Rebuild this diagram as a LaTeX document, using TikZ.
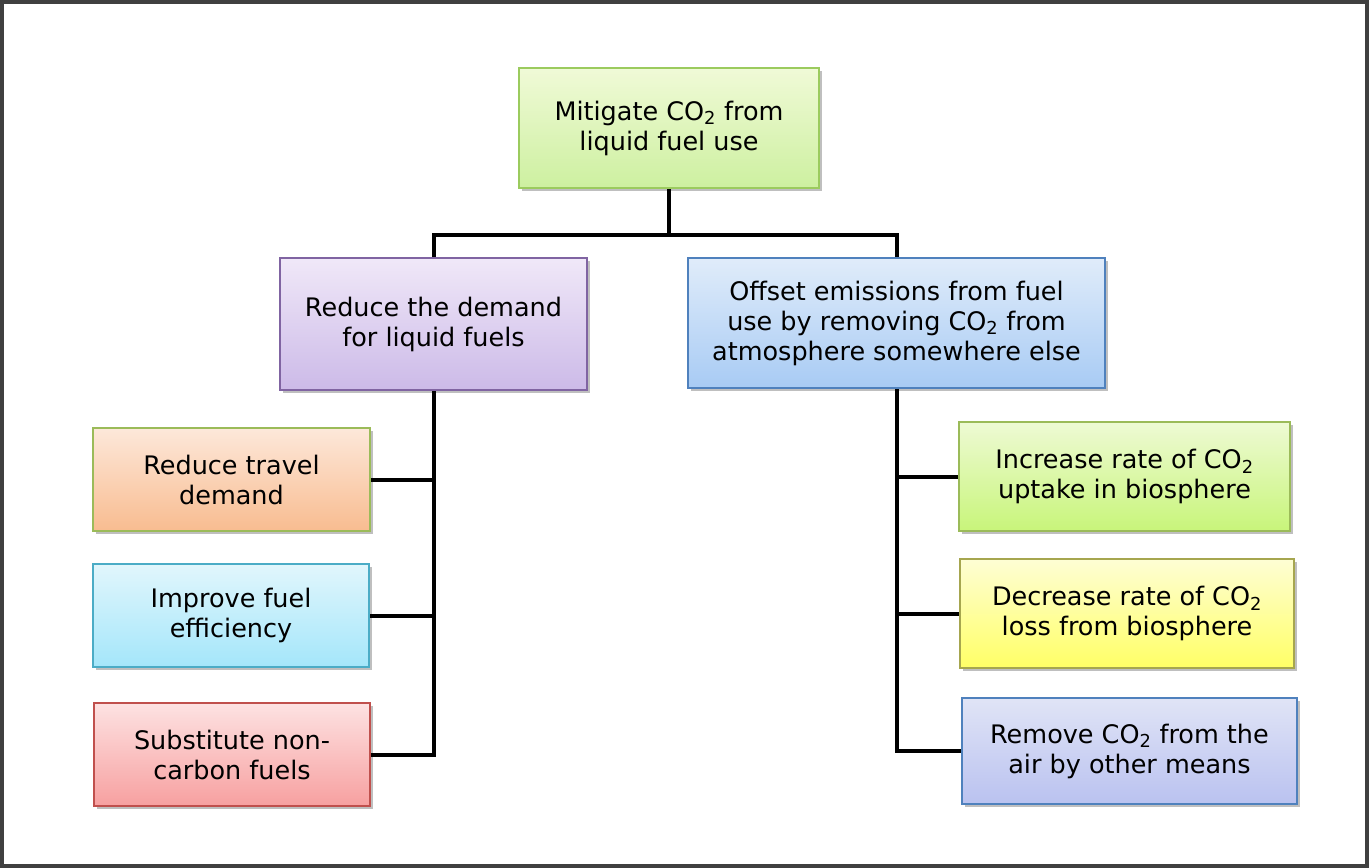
\documentclass[tikz,border=0pt]{standalone}
\usepackage{fontspec}
\setmainfont{DejaVu Sans}
\usetikzlibrary{shadows}
\begin{document}
\begin{tikzpicture}[x=1pt,y=-1pt,
  box/.style={draw, line width=2pt, align=center, inner sep=0pt,
    font=\fontsize{25.5}{30}\selectfont, text=black,
    drop shadow={shadow xshift=3pt, shadow yshift=-3pt, opacity=0.25, fill=black}},
  conn/.style={line width=4pt, black, line join=miter}]
\useasboundingbox (0,0) rectangle (1369,868);
\draw[line width=4pt, draw={rgb,255:red,64;green,64;blue,64}, fill=white] (2,2) rectangle (1367,866);
% nodes
\node[box, minimum width=300pt, minimum height=120pt,
  draw={rgb,255:red,155;green,203;blue,94},
  top color={rgb,255:red,240;green,250;blue,215}, bottom color={rgb,255:red,205;green,240;blue,160}]
  (top) at (669,128) {Mitigate CO\textsubscript{2} from\\liquid fuel use};
\node[box, minimum width=307pt, minimum height=132pt,
  draw={rgb,255:red,128;green,100;blue,162},
  top color={rgb,255:red,240;green,232;blue,248}, bottom color={rgb,255:red,204;green,186;blue,232}]
  (reduce) at (433.5,324) {Reduce the demand\\for liquid fuels};
\node[box, minimum width=417pt, minimum height=130pt,
  draw={rgb,255:red,79;green,129;blue,189},
  top color={rgb,255:red,224;green,236;blue,250}, bottom color={rgb,255:red,168;green,203;blue,244}]
  (offset) at (896.5,323) {Offset emissions from fuel\\use by removing CO\textsubscript{2} from\\atmosphere somewhere else};
\node[box, minimum width=277pt, minimum height=103pt,
  draw={rgb,255:red,155;green,187;blue,89},
  top color={rgb,255:red,253;green,232;blue,218}, bottom color={rgb,255:red,248;green,188;blue,144}]
  (travel) at (231.5,479.5) {Reduce travel\\demand};
\node[box, minimum width=276pt, minimum height=103pt,
  draw={rgb,255:red,75;green,172;blue,198},
  top color={rgb,255:red,225;green,246;blue,252}, bottom color={rgb,255:red,164;green,230;blue,250}]
  (improve) at (231,615.5) {Improve fuel\\efficiency};
\node[box, minimum width=276pt, minimum height=103pt,
  draw={rgb,255:red,192;green,80;blue,77},
  top color={rgb,255:red,253;green,226;blue,226}, bottom color={rgb,255:red,247;green,160;blue,160}]
  (subst) at (232,754.5) {Substitute non-\\carbon fuels};
\node[box, minimum width=331pt, minimum height=109pt,
  draw={rgb,255:red,155;green,187;blue,89},
  top color={rgb,255:red,238;green,250;blue,212}, bottom color={rgb,255:red,200;green,245;blue,122}]
  (incr) at (1124.5,476.5) {Increase rate of CO\textsubscript{2}\\uptake in biosphere};
\node[box, minimum width=334pt, minimum height=109pt,
  draw={rgb,255:red,166;green,166;blue,79},
  top color={rgb,255:red,254;green,254;blue,212}, bottom color={rgb,255:red,255;green,255;blue,102}]
  (decr) at (1127,613.5) {Decrease rate of CO\textsubscript{2}\\loss from biosphere};
\node[box, minimum width=335pt, minimum height=106pt,
  draw={rgb,255:red,79;green,129;blue,189},
  top color={rgb,255:red,224;green,228;blue,246}, bottom color={rgb,255:red,186;green,194;blue,240}]
  (remove) at (1129.5,751) {Remove CO\textsubscript{2} from the\\air by other means};
% connectors
\coordinate (j) at (669,235);
\draw[conn] (top.south) -- (j);
\draw[conn] (reduce.north) |- (j) -| (offset.north);
\draw[conn] (reduce.south) |- (subst.east);
\draw[conn] (travel.east) -- (travel.east -| reduce.south);
\draw[conn] (improve.east) -- (improve.east -| reduce.south);
\draw[conn] (offset.south) |- (remove.west);
\draw[conn] (incr.west) -- (incr.west -| offset.south);
\draw[conn] (decr.west) -- (decr.west -| offset.south);
\end{tikzpicture}
\end{document}
